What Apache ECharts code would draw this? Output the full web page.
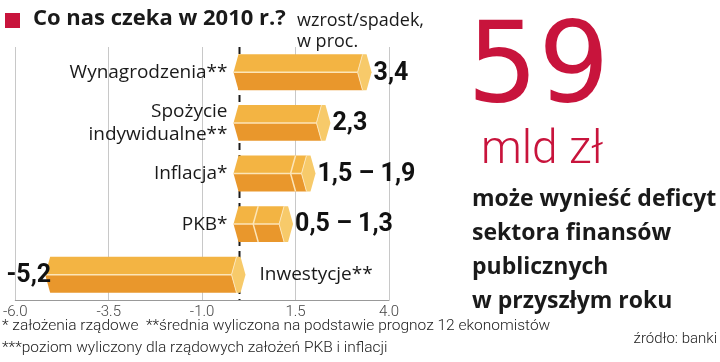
<!DOCTYPE html>
<html>
<head>
<meta charset="utf-8">
<script src="https://cdn.jsdelivr.net/npm/echarts@6/dist/echarts.min.js"></script>
<style>html,body{margin:0;padding:0;background:#fff;}#c{width:720px;height:362px;}</style>
</head>
<body>
<div id="c"></div>
<script>
const categories = ['Wynagrodzenia**', 'Spożycie\nindywidualne**', 'Inflacja*', 'PKB*', 'Inwestycje**'];
const lowValues = [3.4, 2.3, 1.5, 0.5, -5.2];
const highValues = [3.4, 2.3, 1.9, 1.3, -5.2];
const valueLabels = ['3,4', '2,3', '1,5 – 1,9', '0,5 – 1,3', '-5,2'];
const xMin = -6.0, xMax = 4.0, xStep = 2.5;

const FONT = 'Roboto, "Liberation Sans", sans-serif';
const OFONT = '"Open Sans", Roboto, sans-serif';
const TOP_C = '#F3B443', BOT_C = '#E9972C', CAP_C = '#F7CA6A', LINE_C = '#FCE5B8';

const chart = echarts.init(document.getElementById('c'), null, {renderer: 'canvas'});

const barData = categories.map((c, i) => [i, lowValues[i], highValues[i]]);

function renderBar(params, api) {
  const idx = api.value(0), low = api.value(1), high = api.value(2);
  const yc = api.coord([0, idx])[1];
  const band = api.size([0, 1])[1];
  const h = band * 0.71;
  const top = yc - h / 2, bot = yc + h / 2;
  const zx = api.coord([0, idx])[0];
  const d = 5;
  let left, right;
  if (high >= 0) {
    left = zx - 1;
    right = api.coord([high, idx])[0];
  } else {
    left = api.coord([low, idx])[0] + 5;
    right = zx + 1;
  }
  const e = right - 4;
  const children = [];
  children.push({type: 'polygon', shape: {points: [[left, top], [e, top], [e - d, yc], [left - d, yc]]}, style: {fill: TOP_C}});
  children.push({type: 'polygon', shape: {points: [[left - d, yc], [e - d, yc], [e, bot], [left, bot]]}, style: {fill: BOT_C}});
  children.push({type: 'line', shape: {x1: left - d, y1: yc, x2: e - d, y2: yc}, style: {stroke: LINE_C, lineWidth: 1.5}});
  if (high >= 0 && low !== high) {
    const xm = api.coord([low, idx])[0];
    children.push({type: 'polyline', shape: {points: [[xm, top], [xm - d, yc], [xm, bot]]}, style: {stroke: LINE_C, lineWidth: 1.5, fill: null}});
  }
  children.push({type: 'polygon', shape: {points: [[e, top], [e + 4, top], [e + 4 + d, yc], [e + 4, bot], [e, bot], [e - d, yc]]}, style: {fill: CAP_C}});
  children.push({type: 'polyline', shape: {points: [[e, top], [e - d, yc], [e, bot]]}, style: {stroke: LINE_C, lineWidth: 1, fill: null}});
  const cat = categories[idx];
  if (high >= 0) {
    children.push({type: 'text', style: {text: cat, x: zx - 12, y: yc, align: 'right', verticalAlign: 'middle', font: '19px ' + OFONT, fill: '#1a1a1a', lineHeight: 23}});
    children.push({type: 'text', style: {text: valueLabels[idx], x: right + 7, y: yc + 1, align: 'left', verticalAlign: 'middle', font: 'bold 25px ' + FONT, fill: '#111'}});
  } else {
    children.push({type: 'text', style: {text: cat, x: zx + 20, y: yc, align: 'left', verticalAlign: 'middle', font: '19px ' + OFONT, fill: '#1a1a1a'}});
    children.push({type: 'text', style: {text: valueLabels[idx], x: api.coord([low, idx])[0] + 6, y: yc + 1, align: 'right', verticalAlign: 'middle', font: 'bold 25px ' + FONT, fill: '#111'}});
  }
  return {type: 'group', children: children};
}

function renderZero(params, api) {
  const x = api.coord([api.value(0), 0])[0];
  const cs = params.coordSys;
  return {type: 'line', shape: {x1: x, y1: cs.y, x2: x, y2: cs.y + cs.height}, style: {stroke: '#1a1a1a', lineWidth: 2, lineDash: [7, 5]}};
}

const option = {
  animation: false,
  backgroundColor: '#fff',
  grid: {left: 12, right: 331, top: 47, bottom: 62, containLabel: false},
  xAxis: {
    type: 'value', min: xMin, max: xMax, interval: xStep,
    axisLine: {show: true, lineStyle: {color: '#999', width: 1}},
    axisTick: {show: false},
    splitLine: {show: true, lineStyle: {color: '#c8c8c8', width: 1}},
    axisLabel: {formatter: v => v.toFixed(1), color: '#444', fontSize: 15, fontFamily: FONT, fontWeight: 300, margin: 5}
  },
  yAxis: {type: 'category', data: categories, inverse: true, show: false},
  series: [
    {type: 'custom', name: 'zero', data: [[0, 0]], encode: {x: 0, y: 1}, renderItem: renderZero, z: 1, silent: true},
    {type: 'custom', name: 'bars', data: barData, encode: {x: [1, 2], y: 0}, renderItem: renderBar, z: 2, silent: true}
  ],
  graphic: [
    {type: 'rect', left: 5, top: 13, shape: {width: 15, height: 15}, style: {fill: '#C8143C'}},
    {type: 'text', left: 33, top: 8, style: {text: 'Co nas czeka w 2010 r.?', font: 'bold 22px ' + OFONT, fill: '#1a1a1a'}},
    {type: 'text', left: 297, top: 10, style: {text: 'wzrost/spadek,\nw proc.', font: '18px ' + OFONT, fill: '#1a1a1a', lineHeight: 21}},
    {type: 'text', left: 467, top: 16, style: {text: '59', font: '112px "DejaVu Sans", sans-serif', fill: '#C8143C'}},
    {type: 'text', left: 481, top: 128, style: {text: 'mld zł', font: '300 46px ' + FONT, fill: '#C8143C'}},
    {type: 'text', left: 472, top: 182, style: {text: 'może wynieść deficyt\nsektora finansów\npublicznych\nw przyszłym roku', font: 'bold 23px ' + OFONT, fill: '#1a1a1a', lineHeight: 34}},
    {type: 'text', left: 2, top: 318, style: {text: '* założenia rządowe  **średnia wyliczona na podstawie prognoz 12 ekonomistów', font: '300 15.5px ' + FONT, fill: '#222'}},
    {type: 'text', left: 2, top: 340, style: {text: '***poziom wyliczony dla rządowych założeń PKB i inflacji', font: '300 15.5px ' + FONT, fill: '#222'}},
    {type: 'text', right: 3, top: 332, style: {text: 'źródło: banki', font: '300 15px ' + FONT, fill: '#222'}}
  ]
};
chart.setOption(option);
</script>
</body>
</html>
